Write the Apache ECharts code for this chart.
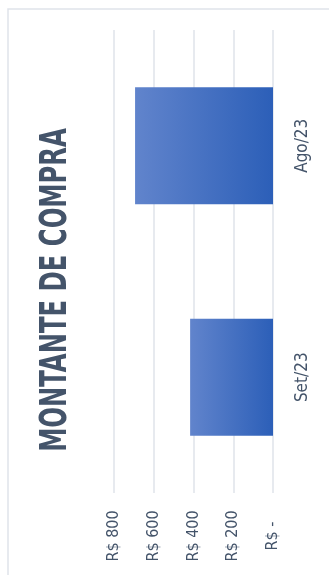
<!DOCTYPE html>
<html>
<head>
<meta charset="utf-8">
<script src="https://cdn.jsdelivr.net/npm/echarts@6/dist/echarts.min.js"></script>
<style>
  html, body { margin: 0; padding: 0; background: #fff; }
  #chart { width: 329px; height: 575px; }
</style>
</head>
<body>
<div id="chart"></div>
<script>
var categories = ['Ago/23', 'Set/23'];
var valores = [694, 417];
var tickValues = [0, 200, 400, 600, 800];
var tickLabels = ['R$ -', 'R$ 200', 'R$ 400', 'R$ 600', 'R$ 800'];
var chartTitle = 'MONTANTE DE COMPRA';

var fonte = "'Liberation Sans Narrow', 'DejaVu Sans Condensed', sans-serif";
var corTexto = '#44546a';

var myChart = echarts.init(document.getElementById('chart'));

var option = {
    animation: false,
    backgroundColor: '#fff',
    graphic: [
        {
            type: 'rect',
            shape: { x: 8, y: 9, width: 340, height: 600 },
            style: { fill: 'none', stroke: '#dfe3ea', lineWidth: 1.5 },
            z: 0
        },
        {
            // titulo girado, comprimido para ficar estreito como no original
            type: 'text',
            x: 56,
            y: 290,
            rotation: Math.PI / 2,
            scaleX: 0.73,
            style: {
                text: chartTitle,
                fill: corTexto,
                font: 'bold 37px ' + fonte,
                align: 'center',
                verticalAlign: 'middle'
            }
        }
    ],
    grid: {
        left: 114,
        right: 56,
        top: 30,
        bottom: 82,
        containLabel: false
    },
    xAxis: {
        type: 'value',
        inverse: true,
        min: 0,
        max: 800,
        interval: 200,
        axisLine: { show: false },
        axisTick: { show: false },
        splitLine: { show: true, lineStyle: { color: '#dfe3ea', width: 1.5 } },
        axisLabel: {
            rotate: 90,
            align: 'center',
            verticalAlign: 'middle',
            margin: 43,
            color: corTexto,
            fontFamily: fonte,
            fontSize: 16,
            formatter: function (v) {
                var i = tickValues.indexOf(v);
                return i >= 0 ? tickLabels[i] : '';
            }
        }
    },
    yAxis: {
        type: 'category',
        position: 'right',
        inverse: true,
        data: categories,
        axisLine: { show: false },
        axisTick: { show: false },
        axisLabel: {
            rotate: 90,
            align: 'center',
            verticalAlign: 'middle',
            margin: 30,
            color: corTexto,
            fontFamily: fonte,
            fontSize: 17
        }
    },
    series: [
        {
            type: 'bar',
            data: valores,
            barWidth: '50.5%',
            itemStyle: {
                color: new echarts.graphic.LinearGradient(0, 0, 1, 0, [
                    { offset: 0, color: '#6184cc' },
                    { offset: 1, color: '#2c5fb8' }
                ])
            }
        }
    ]
};

myChart.setOption(option);
</script>
</body>
</html>
